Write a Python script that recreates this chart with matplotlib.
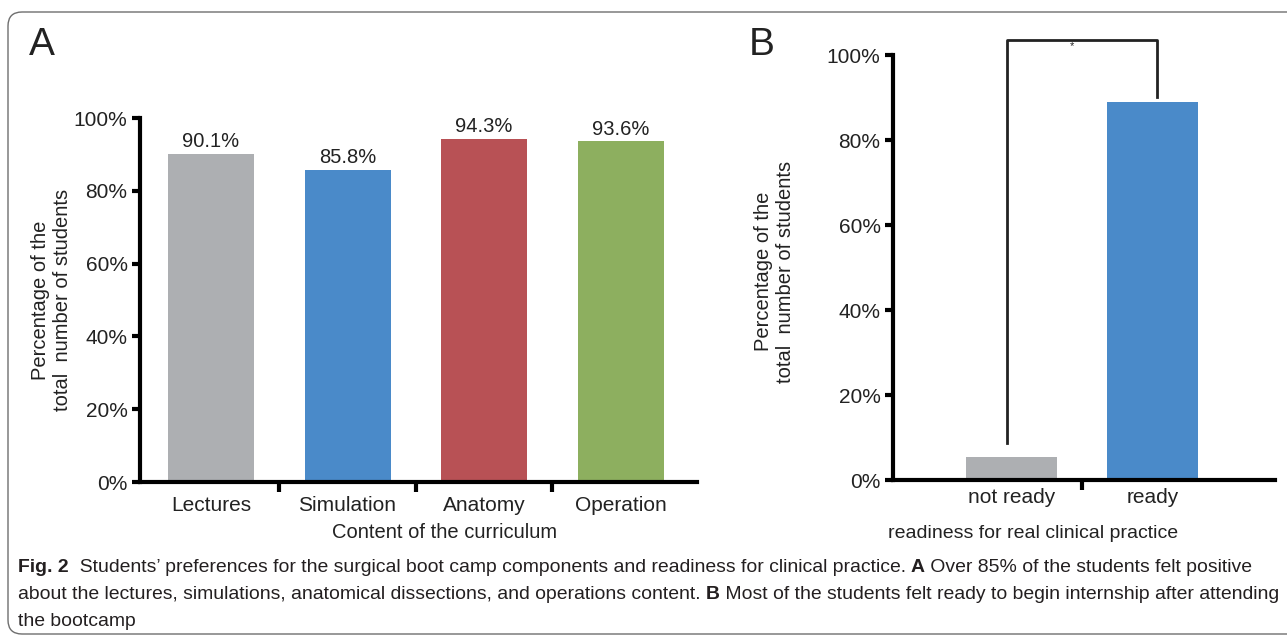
import matplotlib
matplotlib.use('Agg')
import matplotlib.pyplot as plt
from matplotlib.patches import FancyBboxPatch
from matplotlib.transforms import IdentityTransform

plt.rcParams['font.family'] = ['Liberation Sans', 'DejaVu Sans']

# Panel A data
curriculum = ['Lectures', 'Simulation', 'Anatomy', 'Operation']
curriculum_pct = [90.1, 85.8, 94.3, 93.6]
curriculum_colors = ['#adafb2', '#4a8ac9', '#b85155', '#8daf5f']

# Panel B data
readiness = ['not ready', 'ready']
readiness_pct = [5.4, 89.0]
readiness_colors = ['#adafb2', '#4a8ac9']

yticks = [0, 20, 40, 60, 80, 100]
ytick_labels = ['0%', '20%', '40%', '60%', '80%', '100%']

fig = plt.figure(figsize=(12.87, 6.38), dpi=100)

# rounded frame around the whole figure
frame = FancyBboxPatch((8, 4), 1310, 622, boxstyle='round,pad=0,rounding_size=14',
                       transform=IdentityTransform(), facecolor='white',
                       edgecolor='#6e6e6e', linewidth=1.0, zorder=0)
fig.add_artist(frame)


def style_axes(ax):
    for side in ['top', 'right']:
        ax.spines[side].set_visible(False)
    for side in ['left', 'bottom']:
        ax.spines[side].set_linewidth(3)
    ax.set_ylim(0, 100)
    ax.set_yticks(yticks)
    ax.set_yticklabels(ytick_labels, fontsize=15, color='#222222')
    ax.tick_params(axis='y', length=6, width=3, pad=3)
    ax.tick_params(axis='x', which='major', length=0, pad=10, labelsize=15, labelcolor='#222222')
    ax.tick_params(axis='x', which='minor', length=7, width=3, direction='out')
    ax.set_facecolor('none')


# ---- Panel A ----
axA = fig.add_axes([0.1088, 0.2445, 0.4328, 0.5705])
xa = range(len(curriculum))
bars = axA.bar(xa, curriculum_pct, width=0.63, color=curriculum_colors)
axA.set_xlim(-0.52, 3.56)
axA.set_xticks(list(xa))
axA.set_xticklabels(curriculum)
axA.set_xticks([0.5, 1.5, 2.5], minor=True)
style_axes(axA)
for b, v in zip(bars, curriculum_pct):
    axA.annotate(f'{v}%', (b.get_x() + b.get_width() / 2, v), xytext=(0, 2),
                 textcoords='offset points', ha='center', va='bottom', fontsize=14.5,
                 color='#222222')
axA.set_ylabel('Percentage of the\ntotal  number of students', fontsize=14.5,
               color='#222222')
axA.yaxis.set_label_coords(-0.122, 0.5)
axA.text(0.546, -0.14, 'Content of the curriculum', transform=axA.transAxes,
         ha='center', va='center', fontsize=14.5, color='#222222')

# ---- Panel B ----
axB = fig.add_axes([0.6939, 0.2476, 0.2968, 0.6661])
xb = range(len(readiness))
axB.bar(xb, readiness_pct, width=0.645, color=readiness_colors)
axB.set_xlim(-0.84, 1.87)
axB.set_xticks(list(xb))
axB.set_xticklabels(readiness)
axB.set_xticks([0.5], minor=True)
style_axes(axB)
axB.tick_params(axis='x', which='major', pad=6)
axB.set_ylabel('Percentage of the\ntotal  number of students', fontsize=14.5,
               color='#222222')
axB.yaxis.set_label_coords(-0.256, 0.49)
axB.text(0.366, -0.125, 'readiness for real clinical practice', transform=axB.transAxes,
         ha='center', va='center', fontsize=14, color='#222222')

# significance bracket
top = 103.5
axB.plot([-0.035, -0.035, 1.03, 1.03],
         [readiness_pct[0] + 3.3, top, top, readiness_pct[1] + 1.1],
         color='#222222', lw=2, clip_on=False)
axB.text(0.43, top - 0.3, '*', ha='center', va='top', fontsize=8, color='#222222',
         clip_on=False)

# panel letters
fig.text(42 / 1287, 1 - 45 / 638, 'A', ha='center', va='center', fontsize=28,
         color='#222222')
fig.text(762 / 1287, 1 - 45 / 638, 'B', ha='center', va='center', fontsize=28,
         color='#222222')

# caption with bold segments
caption = [
    [('Fig. 2', 'bold'), ('  Students\u2019 preferences for the surgical boot camp components and readiness for clinical practice. ', 'normal'),
     ('A', 'bold'), (' Over 85% of the students felt positive', 'normal')],
    [('about the lectures, simulations, anatomical dissections, and operations content. ', 'normal'),
     ('B', 'bold'), (' Most of the students felt ready to begin internship after attending', 'normal')],
    [('the bootcamp', 'normal')],
]
renderer = fig.canvas.get_renderer()
line_y = [572, 599, 626]
for segs, y in zip(caption, line_y):
    x = 18
    for s, w in segs:
        t = fig.text(x / 1287, 1 - y / 638, s, ha='left', va='baseline', fontsize=13.95,
                     fontweight=w, color='#231f20')
        x += t.get_window_extent(renderer).width

fig.savefig('out.png', dpi=100)
